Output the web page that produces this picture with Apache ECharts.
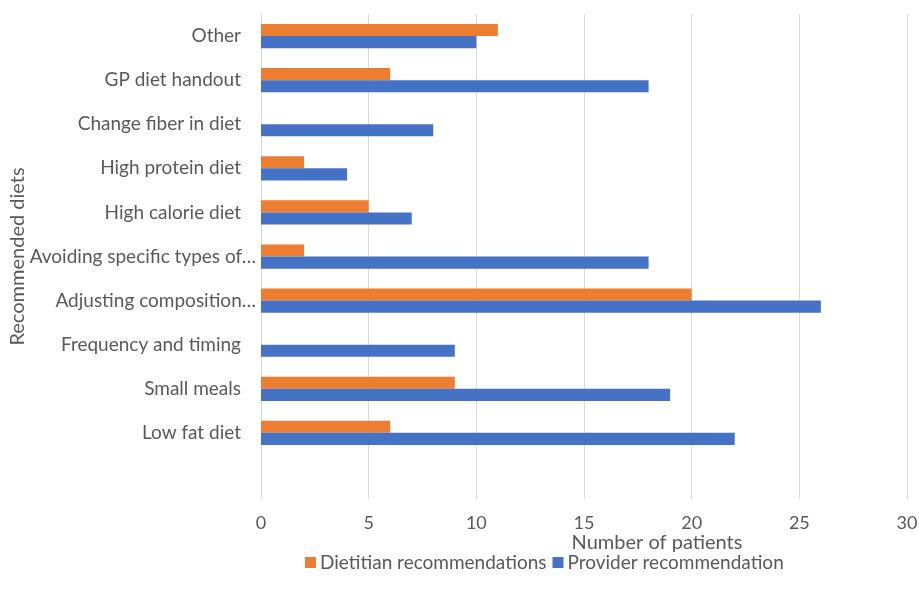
<!DOCTYPE html>
<html><head><meta charset="utf-8">
<script src="https://cdn.jsdelivr.net/npm/echarts@6/dist/echarts.min.js"></script>
<style>html,body{margin:0;padding:0;background:#fff}#c{width:919px;height:598px}</style>
</head><body><div id="c"></div>
<script>
const categories = ['', 'Low fat diet', 'Small meals', 'Frequency and timing', 'Adjusting composition…', 'Avoiding specific types of…', 'High calorie diet', 'High protein diet', 'Change fiber in diet', 'GP diet handout', 'Other'];
const dietitian = [null, 6, 9, 0, 20, 2, 5, 2, 0, 6, 11];
const provider = [null, 22, 19, 9, 26, 18, 7, 4, 8, 18, 10];
const xTicks = [0, 5, 10, 15, 20, 25, 30];

const FONT = 'Lato';
const TXT = '#595959';
const chart = echarts.init(document.getElementById('c'));
chart.setOption({
  animation: false,
  textStyle: {fontFamily: FONT},
  grid: {left: 261, right: 12, top: 14, bottom: 99, containLabel: false, outerBoundsMode: 'none'},
  legend: {
    data: ['Dietitian recommendations', 'Provider recommendation'],
    bottom: 21, left: 300, itemWidth: 11, itemHeight: 11, itemGap: 6,
    icon: 'rect',
    textStyle: {color: TXT, fontSize: 19, fontFamily: FONT, padding: [0, 0, 0, -1]}
  },
  xAxis: {
    type: 'value', min: xTicks[0], max: xTicks[xTicks.length - 1], interval: 5,
    axisLine: {show: false}, axisTick: {show: false},
    splitLine: {lineStyle: {color: '#d9d9d9', width: 1}},
    axisLabel: {color: TXT, fontSize: 18, margin: 15},
    name: 'Number of patients', nameLocation: 'middle', nameGap: 34, nameMoveOverlap: false,
    nameTextStyle: {color: TXT, fontSize: 20, padding: [0, 0, 0, 146]}
  },
  yAxis: {
    type: 'category', data: categories,
    axisLine: {show: true, lineStyle: {color: '#d9d9d9'}}, axisTick: {show: false},
    axisLabel: {
      color: TXT, fontSize: 19, margin: 20,
      formatter: v => v.endsWith('…') ? '{e|' + v + '}' : v,
      rich: {e: {fontSize: 19, color: TXT, fontFamily: FONT, padding: [0, -15, 0, 0]}}
    },
    name: 'Recommended diets', nameLocation: 'middle', nameGap: 243, nameRotate: 90, nameMoveOverlap: false,
    nameTextStyle: {color: TXT, fontSize: 20, verticalAlign: 'middle'}
  },
  series: [
    {name: 'Dietitian recommendations', type: 'bar', data: dietitian, itemStyle: {color: '#ED7D31'}, barGap: '0%', barCategoryGap: '45%'},
    {name: 'Provider recommendation', type: 'bar', data: provider, itemStyle: {color: '#4472C4'}, barGap: '0%', barCategoryGap: '45%'}
  ]
});
</script></body></html>
